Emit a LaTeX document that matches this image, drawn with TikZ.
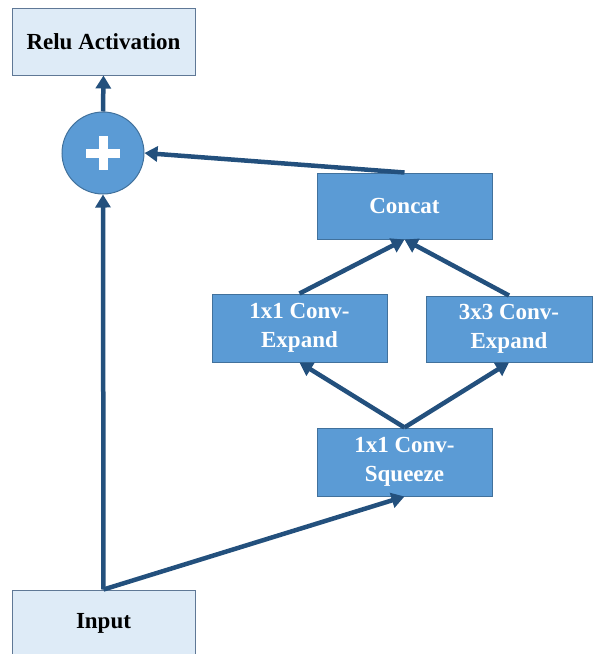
\documentclass[tikz,border=0pt]{standalone}
\usepackage{fontspec}
\setmainfont{Liberation Serif}
\usetikzlibrary{arrows.meta}
\definecolor{iofill}{RGB}{222,235,247}
\definecolor{ioline}{RGB}{95,120,150}
\definecolor{layerfill}{RGB}{91,155,213}
\definecolor{layerline}{RGB}{65,113,156}
\definecolor{flowblue}{RGB}{35,80,125}
\begin{document}
\begin{tikzpicture}[x=1pt,y=-1pt]
\tikzstyle{every node}=[inner sep=0pt, align=center, font=\fontsize{23}{29}\selectfont\bfseries]
\tikzstyle{io}=[draw=ioline, fill=iofill, line width=1pt, minimum width=183pt, minimum height=67pt]
\tikzstyle{layer}=[draw=layerline, fill=layerfill, text=white, line width=1pt, minimum width=175pt, minimum height=68pt]
\tikzstyle{sum}=[circle, draw=layerline, fill=layerfill, line width=1pt, minimum size=82pt]
\tikzstyle{flow}=[draw=flowblue, line width=4.5pt, -{Triangle[length=13pt,width=15pt]}]
\useasboundingbox (0,0) rectangle (593,654);
\draw (103.5,41.5) node (relu) [io] {Relu Activation};
\draw (103,153) node (plus) [sum] {};
\draw (404.5,206) node (concat) [layer, minimum height=66pt] {Concat};
\draw (299.5,328) node (exp1) [layer] {1x1 Conv-\\Expand};
\draw (509,329) node (exp3) [layer, minimum width=166pt, minimum height=66pt] {3x3 Conv-\\Expand};
\draw (404.5,462) node (sq) [layer] {1x1 Conv-\\Squeeze};
\draw (103.5,623.5) node (in) [io] {Input};
\draw[white, line width=9pt] (plus) +(-17,0) -- +(17,0) (plus) +(0,-17) -- +(0,17);
\draw[flow] (in.north) -- (plus.south);
\draw[flow] (in.north) -- (sq.south);
\draw[flow] (sq.north) -- (exp1.south);
\draw[flow] (sq.north) -- (exp3.south);
\draw[flow] (exp1.north) -- (concat.south);
\draw[flow] (exp3.north) -- (concat.south);
\draw[flow] (concat.north) -- (plus.east);
\draw[flow] (plus.north) -- (relu.south);
\end{tikzpicture}
\end{document}
